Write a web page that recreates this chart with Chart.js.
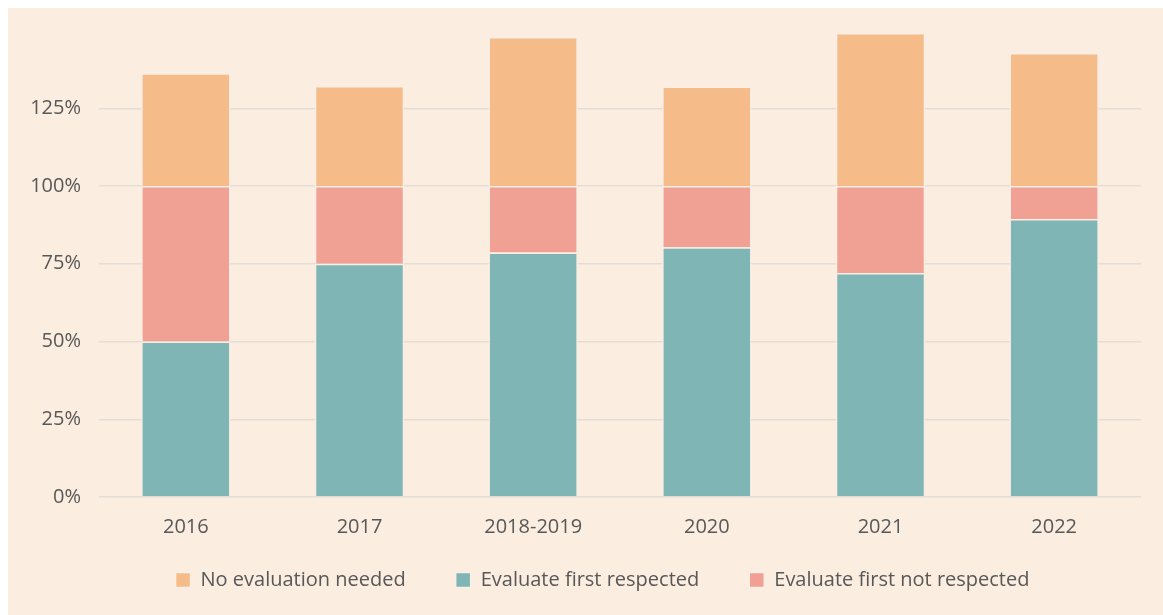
<!DOCTYPE html>
<html>
<head>
<meta charset="utf-8">
<script src="https://cdn.jsdelivr.net/npm/chart.js@4/dist/chart.umd.min.js"></script>
<style>
  html, body { margin: 0; padding: 0; background: #fff; }
  #panel { position: absolute; left: 8px; top: 8px; width: 1155px; height: 607px; background: #fbeddf; }
</style>
</head>
<body>
<div id="panel"><canvas id="chart"></canvas></div>
<script>
// Share of cases per year, stacked: teal at bottom, pink up to 100%, orange on top.
const years = ['2016', '2017', '2018-2019', '2020', '2021', '2022'];
const respected = [50, 75, 78.6, 80.3, 72, 89.4];
const notRespected = [50, 25, 21.4, 19.7, 28, 10.6];
const noEvalNeeded = [36.3, 32.2, 47.9, 32, 49.2, 42.8];
const yTicks = [0, 25, 50, 75, 100, 125];

const FONT = '"Open Sans", sans-serif';
const TEXT = '#585858';
const legendOrder = ['No evaluation needed', 'Evaluate first respected', 'Evaluate first not respected'];

const seg = (label, data, color) => ({
  label, data, backgroundColor: color,
  borderColor: '#f7eee6', borderWidth: 1.5,
  categoryPercentage: 1, barPercentage: 0.515,
});

// wide item spacing pushes the legend box down; nudge it back up and a bit right
const legendNudge = {
  id: 'legendNudge',
  afterLayout(chart) {
    const l = chart.legend;
    l.left += 28; l.right += 28;
    l.top -= 24; l.bottom -= 24;
  },
};

new Chart(document.getElementById('chart'), {
  type: 'bar',
  data: {
    labels: years,
    datasets: [
      seg('Evaluate first respected', respected, '#80b5b5'),
      seg('Evaluate first not respected', notRespected, '#f1a193'),
      seg('No evaluation needed', noEvalNeeded, '#f5bc8a'),
    ],
  },
  plugins: [legendNudge],
  options: {
    responsive: true,
    maintainAspectRatio: false,
    animation: false,
    layout: { padding: { top: 7, right: 22, bottom: -9, left: 0 } },
    plugins: {
      tooltip: { enabled: false },
      legend: {
        position: 'bottom',
        labels: {
          color: TEXT,
          font: { family: FONT, size: 20 },
          boxWidth: 15, boxHeight: 15,
          padding: 50,
          sort: (a, b) => legendOrder.indexOf(a.text) - legendOrder.indexOf(b.text),
        },
      },
    },
    scales: {
      x: {
        stacked: true,
        grid: { display: false, drawTicks: false },
        border: { display: false },
        ticks: { color: TEXT, font: { family: FONT, size: 20 }, padding: 18 },
        afterFit: (s) => { s.height = 47; },
      },
      y: {
        stacked: true,
        min: 0, max: 155,
        afterBuildTicks: (s) => { s.ticks = yTicks.map((v) => ({ value: v })); },
        // fixed axis width; drop the label padding so the plot can reach the top
        afterFit: (s) => { s.width = 91; s.paddingTop = 0; s.paddingBottom = 0; },
        grid: { color: '#e3ddd6', lineWidth: 1.5, drawTicks: false },
        border: { display: false },
        ticks: { color: TEXT, font: { family: FONT, size: 20 }, padding: 18, callback: (v) => v + '%' },
      },
    },
  },
});
</script>
</body>
</html>
